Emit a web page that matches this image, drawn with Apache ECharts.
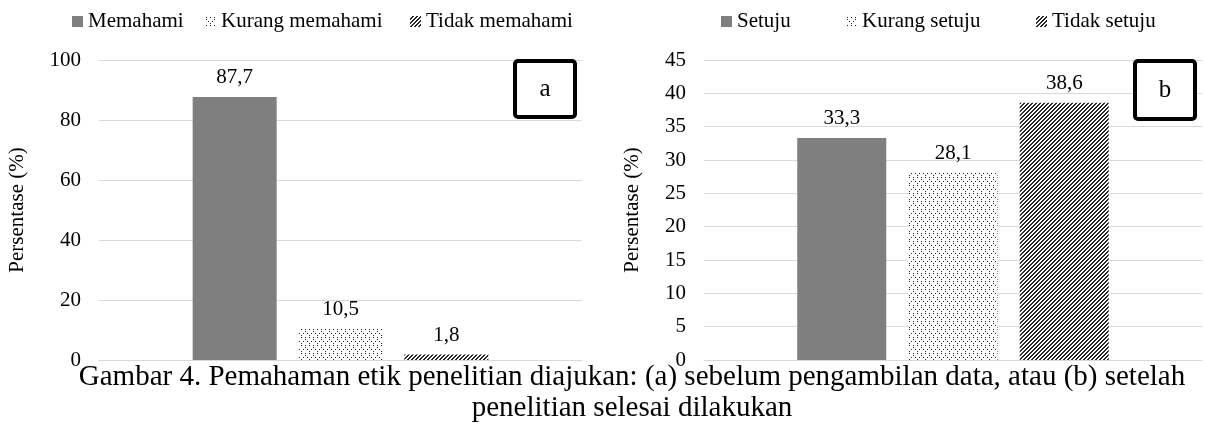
<!DOCTYPE html>
<html>
<head>
<meta charset="utf-8">
<script src="https://cdn.jsdelivr.net/npm/echarts@6/dist/echarts.min.js"></script>
<style>
html,body{margin:0;padding:0;background:#fff;}
#c{width:1205px;height:426px;}
</style>
</head>
<body>
<div id="c"></div>
<script>
// ---- data ----
const categories = [''];
const namesA = ['Memahami', 'Kurang memahami', 'Tidak memahami'];
const valuesA = [87.7, 10.5, 1.8];
const namesB = ['Setuju', 'Kurang setuju', 'Tidak setuju'];
const valuesB = [33.3, 28.1, 38.6];
const yTicksA = { min: 0, max: 100, interval: 20 };
const yTicksB = { min: 0, max: 45, interval: 5 };
const yAxisName = 'Persentase (%)';
const captionLines = [
  'Gambar 4. Pemahaman etik penelitian diajukan: (a) sebelum pengambilan data, atau (b) setelah',
  'penelitian selesai dilakukan'
];

// ---- patterns ----
function dotPattern() {
  const c = document.createElement('canvas');
  c.width = 8; c.height = 8;
  const g = c.getContext('2d');
  g.fillStyle = '#ffffff'; g.fillRect(0, 0, 8, 8);
  g.fillStyle = '#222222';
  g.fillRect(1, 1, 1, 1); g.fillRect(5, 1, 1, 1);
  g.fillRect(3, 5, 1, 1); g.fillRect(7, 5, 1, 1);
  g.fillRect(1, 3, 1, 1); g.fillRect(5, 7, 1, 1);
  return { image: c, repeat: 'repeat' };
}
function hatchPattern() {
  const c = document.createElement('canvas');
  c.width = 4; c.height = 4;
  const g = c.getContext('2d');
  g.fillStyle = '#ffffff'; g.fillRect(0, 0, 4, 4);
  g.fillStyle = '#2a2a2a';
  for (let y = 0; y < 4; y++) {
    for (let x = 0; x < 4; x++) {
      const s = (x + y) % 4;
      if (s === 2 || s === 3) g.fillRect(x, y, 1, 1);
    }
  }
  return { image: c, repeat: 'repeat' };
}
const fills = ['#7f7f7f', dotPattern(), hatchPattern()];

const FONT = 'Liberation Serif';
const FS = 21;
const fmt = p => String(p.value).replace('.', ',');

function makeSeries(names, values, idx, barWidth, gap) {
  return names.map((n, i) => ({
    name: n,
    type: 'bar',
    xAxisIndex: idx,
    yAxisIndex: idx,
    data: [values[i]],
    barWidth: barWidth,
    barGap: gap,
    itemStyle: { color: fills[i] },
    label: {
      show: true, position: 'top', distance: 9,
      formatter: fmt, fontFamily: FONT, fontSize: FS, color: '#000'
    },
    emphasis: { disabled: true },
    animation: false
  }));
}

function yAxis(idx, t, gap) {
  return {
    gridIndex: idx, type: 'value', min: t.min, max: t.max, interval: t.interval,
    name: yAxisName, nameLocation: 'middle', nameGap: gap,
    nameTextStyle: { fontFamily: FONT, fontSize: FS, color: '#000' },
    axisLine: { show: false }, axisTick: { show: false },
    axisLabel: { fontFamily: FONT, fontSize: FS, color: '#000', margin: 18 },
    splitLine: { lineStyle: { color: '#d9d9d9', width: 1 } }
  };
}
function xAxis(idx) {
  return {
    gridIndex: idx, type: 'category', data: categories,
    axisLine: { lineStyle: { color: '#d9d9d9' } },
    axisTick: { show: false }, axisLabel: { show: false }
  };
}

const legendPos = [[67, 6], [200, 6], [405, 6], [716, 6], [841, 6], [1031, 6]];
const allNames = namesA.concat(namesB);
const legends = allNames.map((n, i) => ({
  data: [n], left: legendPos[i][0], top: legendPos[i][1],
  itemWidth: 11, itemHeight: 11, icon: 'rect', itemGap: 4,
  textStyle: { fontFamily: FONT, fontSize: FS, color: '#000' },
  selectedMode: false
}));

const chart = echarts.init(document.getElementById('c'), null, { renderer: 'canvas' });
chart.setOption({
  animation: false,
  backgroundColor: '#ffffff',
  grid: [
    { left: 99, right: 623, top: 60, bottom: 66 },
    { left: 704, right: 3, top: 60, bottom: 66 }
  ],
  xAxis: [xAxis(0), xAxis(1)],
  yAxis: [yAxis(0, yTicksA, 71), yAxis(1, yTicksB, 61)],
  legend: legends,
  series: makeSeries(namesA, valuesA, 0, 84, '26%').concat(makeSeries(namesB, valuesB, 1, 89, '25%')),
  graphic: [
    { type: 'text', x: 632, y: 362, z: 12,
      style: { text: captionLines.join('\n'), fontFamily: FONT, fontSize: 29, lineHeight: 31,
               fill: '#000', align: 'center', verticalAlign: 'top' } },
    { type: 'rect', shape: { x: 515, y: 61, width: 60, height: 56, r: 3 },
      style: { fill: '#fff', stroke: '#000', lineWidth: 4 }, z: 10 },
    { type: 'text', x: 545, y: 89, style: { text: 'a', fontFamily: FONT, fontSize: 25, fill: '#000', align: 'center', verticalAlign: 'middle' }, z: 11 },
    { type: 'rect', shape: { x: 1135, y: 61, width: 60, height: 58, r: 3 },
      style: { fill: '#fff', stroke: '#000', lineWidth: 4 }, z: 10 },
    { type: 'text', x: 1165, y: 90, style: { text: 'b', fontFamily: FONT, fontSize: 25, fill: '#000', align: 'center', verticalAlign: 'middle' }, z: 11 }
  ]
});
</script>
</body>
</html>
